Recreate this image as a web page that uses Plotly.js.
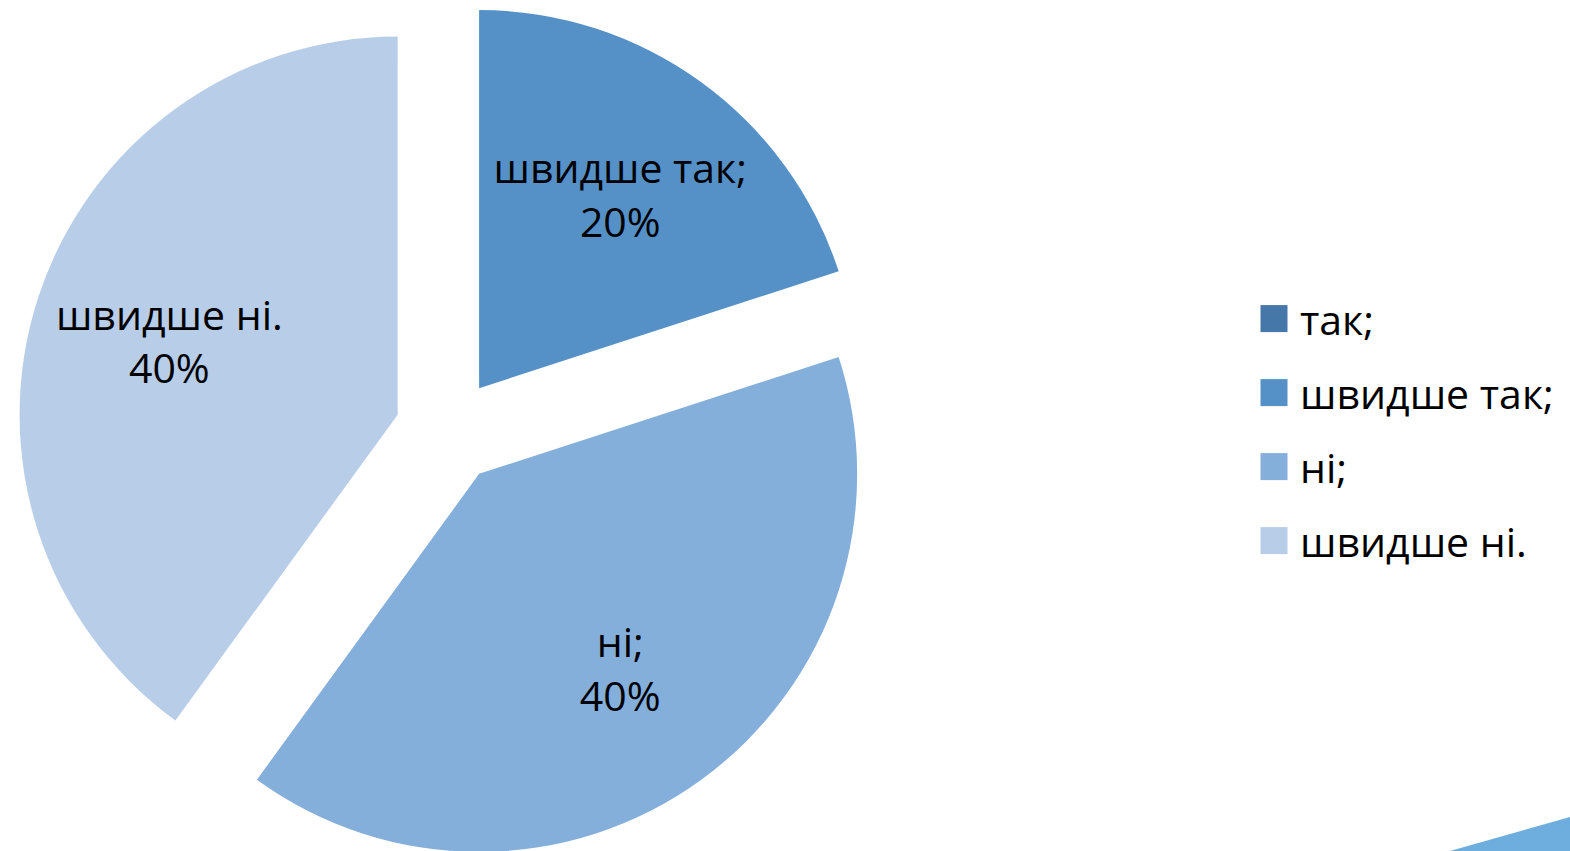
<!DOCTYPE html>
<html>
<head>
<meta charset="utf-8">
<script src="https://cdn.plot.ly/plotly-3.0.1.min.js"></script>
<style>
  html, body { margin: 0; padding: 0; background: #ffffff; overflow: hidden; }
  #chart { width: 1570px; height: 862px; }
</style>
</head>
<body>
<div id="chart"></div>
<script>
const labels = ['так;', 'швидше так;', 'ні;', 'швидше ні.'];
const values = [0, 20, 40, 40];
const sliceColors = ['#4677A9', '#5591C7', '#85AFDB', '#B8CDE8'];
const pulls = [0.14, 0.14, 0.14, 0.14];
const textTemplates = ['', '%{label}<br>%{percent}', '%{label}<br>%{percent}', '%{label}<br>%{percent}'];

const H = 862;
const pieDomain = { x: [0, 896 / 1570], y: [0, 1] };

// full pie: the visible slices and the legend
const slicesTrace = {
  type: 'pie',
  labels: labels,
  values: values,
  sort: false,
  direction: 'clockwise',
  rotation: 0,
  pull: pulls,
  marker: { colors: sliceColors, line: { width: 0 } },
  textinfo: 'none',
  hoverinfo: 'none',
  domain: pieDomain,
  showlegend: true
};

// same pie, transparent, only carries the slice labels (the ring pushes the labels outward)
const labelTrace = {
  type: 'pie',
  labels: labels,
  values: values,
  sort: false,
  direction: 'clockwise',
  rotation: 0,
  pull: pulls,
  hole: 0.27,
  marker: { colors: ['rgba(0,0,0,0)', 'rgba(0,0,0,0)', 'rgba(0,0,0,0)', 'rgba(0,0,0,0)'], line: { width: 0 } },
  texttemplate: textTemplates,
  textposition: 'inside',
  insidetextorientation: 'horizontal',
  textfont: { family: 'Open Sans, sans-serif', size: 41, color: '#000000' },
  hoverinfo: 'none',
  domain: pieDomain,
  showlegend: false
};

const layout = {
  width: 1570,
  height: H,
  margin: { l: 0, r: 0, t: 0, b: 0 },
  paper_bgcolor: '#ffffff',
  plot_bgcolor: '#ffffff',
  showlegend: true,
  legend: {
    x: 1254 / 1570,
    xanchor: 'left',
    y: 1 - 430 / H,
    yanchor: 'middle',
    font: { family: 'Open Sans, sans-serif', size: 41, color: '#000000' },
    bgcolor: 'rgba(0,0,0,0)',
    borderwidth: 0
  },
  shapes: [{
    type: 'path',
    xref: 'paper', yref: 'paper',
    path: 'M ' + (1450 / 1570) + ',0 L ' + (1450 / 1570) + ',' + (1 - 851 / H) + ' L 1,' + (1 - 817 / H) + ' L 1,0 Z',
    fillcolor: '#6EAEDF',
    line: { width: 0 },
    layer: 'above'
  }]
};

Plotly.newPlot('chart', [slicesTrace, labelTrace], layout, { staticPlot: true, displayModeBar: false }).then(function (gd) {
  const sb = gd.querySelector('.legend .scrollbox');
  if (sb) sb.removeAttribute('clip-path');
  const items = Array.from(gd.querySelectorAll('.legend .traces'));
  const parsed = items.map(function (g) {
    const t = g.getAttribute('transform') || '';
    const m = t.match(/translate\(\s*([-\d.]+)[ ,]+([-\d.]+)\s*\)/);
    return m ? [parseFloat(m[1]), parseFloat(m[2])] : [0, 0];
  });
  if (parsed.length) {
    const mid = parsed.reduce(function (s, p) { return s + p[1]; }, 0) / parsed.length;
    const n = parsed.length;
    items.forEach(function (g, i) {
      g.setAttribute('transform', 'translate(' + parsed[i][0] + ',' + (mid + (i - (n - 1) / 2) * 74) + ')');
      const sym = g.querySelector('.legendpoints path');
      if (sym) sym.setAttribute('d', 'M13.5,13.5H-13.5V-13.5H13.5Z');
      const txt = g.querySelector('text.legendtext');
      if (txt) txt.setAttribute('x', '46');
    });
  }
});
</script>
</body>
</html>
